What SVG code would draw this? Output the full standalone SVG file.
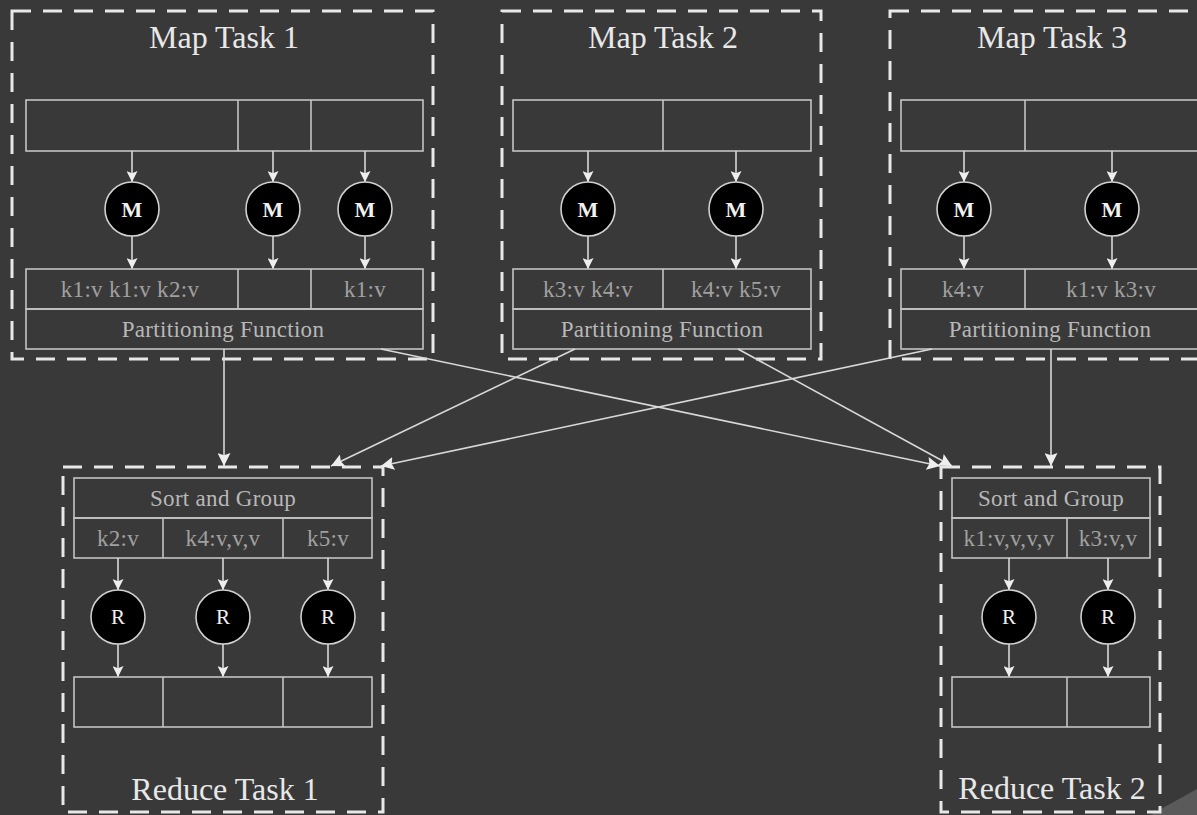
<svg xmlns="http://www.w3.org/2000/svg" width="1197" height="815" viewBox="0 0 1197 815">
<defs>
<style>
.task{fill:none;stroke:#e8e8e8;stroke-width:3;stroke-dasharray:19,12}
.cell{fill:none;stroke:#c4c4c4;stroke-width:1.6}
.ln{fill:none;stroke:#d8d8d8;stroke-width:1.6}
.circ{fill:#000;stroke:#d0d0d0;stroke-width:1.6}
.title{font-family:"Liberation Serif",serif;font-size:32px;fill:#e8e8e8;text-anchor:middle}
.lbl{font-family:"Liberation Serif",serif;font-size:23px;fill:#b8b8b8;text-anchor:middle;letter-spacing:0.3px}
.key{font-family:"Liberation Serif",serif;font-size:23px;fill:#a0a0a0;text-anchor:middle;letter-spacing:0.3px}
.m{font-family:"Liberation Serif",serif;font-size:22px;font-weight:bold;fill:#f0f0f0;text-anchor:middle}
.r{font-family:"Liberation Serif",serif;font-size:21px;fill:#f0f0f0;text-anchor:middle}
</style>
<marker id="ah" viewBox="0 0 10 10" refX="10" refY="5" markerWidth="11" markerHeight="11" markerUnits="userSpaceOnUse" orient="auto">
<path d="M0,0 L10,5 L0,10 L2,5 Z" fill="#eeeeee"/>
</marker>
<marker id="ah2" viewBox="0 0 12 12" refX="12" refY="6" markerWidth="13" markerHeight="13" markerUnits="userSpaceOnUse" orient="auto">
<path d="M0,0 L12,6 L0,12 L2,6 Z" fill="#eeeeee"/>
</marker>
</defs>
<rect x="0" y="0" width="1197" height="815" fill="#393939"/>
<polygon points="1150,815 1197,789 1197,815" fill="#5a5a5a"/>

<g id="map1">
<rect class="task" x="12" y="11" width="421" height="348"/>
<text class="title" x="224" y="48">Map Task 1</text>
<rect class="cell" x="26" y="100" width="397" height="51"/>
<line class="cell" x1="238" y1="100" x2="238" y2="151"/>
<line class="cell" x1="311" y1="100" x2="311" y2="151"/>
<line class="ln" x1="132" y1="151" x2="132" y2="182" marker-end="url(#ah)"/>
<line class="ln" x1="273" y1="151" x2="273" y2="182" marker-end="url(#ah)"/>
<line class="ln" x1="365" y1="151" x2="365" y2="182" marker-end="url(#ah)"/>
<circle class="circ" cx="132" cy="209" r="27"/>
<circle class="circ" cx="273" cy="209" r="27"/>
<circle class="circ" cx="365" cy="209" r="27"/>
<text class="m" x="132" y="217">M</text>
<text class="m" x="273" y="217">M</text>
<text class="m" x="365" y="217">M</text>
<line class="ln" x1="132" y1="236" x2="132" y2="269" marker-end="url(#ah)"/>
<line class="ln" x1="273" y1="236" x2="273" y2="269" marker-end="url(#ah)"/>
<line class="ln" x1="365" y1="236" x2="365" y2="269" marker-end="url(#ah)"/>
<rect class="cell" x="26" y="269" width="397" height="40"/>
<line class="cell" x1="238" y1="269" x2="238" y2="309"/>
<line class="cell" x1="311" y1="269" x2="311" y2="309"/>
<text class="key" x="130" y="297">k1:v k1:v k2:v</text>
<text class="key" x="365" y="297">k1:v</text>
<rect class="cell" x="26" y="309" width="397" height="40"/>
<text class="lbl" x="223" y="337">Partitioning Function</text>
</g>

<g id="map2">
<rect class="task" x="502" y="11" width="319" height="348"/>
<text class="title" x="663" y="48">Map Task 2</text>
<rect class="cell" x="513" y="100" width="298" height="51"/>
<line class="cell" x1="663" y1="100" x2="663" y2="151"/>
<line class="ln" x1="588" y1="151" x2="588" y2="182" marker-end="url(#ah)"/>
<line class="ln" x1="736" y1="151" x2="736" y2="182" marker-end="url(#ah)"/>
<circle class="circ" cx="588" cy="209" r="27"/>
<circle class="circ" cx="736" cy="209" r="27"/>
<text class="m" x="588" y="217">M</text>
<text class="m" x="736" y="217">M</text>
<line class="ln" x1="588" y1="236" x2="588" y2="269" marker-end="url(#ah)"/>
<line class="ln" x1="736" y1="236" x2="736" y2="269" marker-end="url(#ah)"/>
<rect class="cell" x="513" y="269" width="298" height="40"/>
<line class="cell" x1="663" y1="269" x2="663" y2="309"/>
<text class="key" x="588" y="297">k3:v k4:v</text>
<text class="key" x="736" y="297">k4:v k5:v</text>
<rect class="cell" x="513" y="309" width="298" height="40"/>
<text class="lbl" x="662" y="337">Partitioning Function</text>
</g>

<g id="map3">
<rect class="task" x="890" y="11" width="322" height="348"/>
<text class="title" x="1052" y="48">Map Task 3</text>
<rect class="cell" x="901" y="100" width="298" height="51"/>
<line class="cell" x1="1025" y1="100" x2="1025" y2="151"/>
<line class="ln" x1="964" y1="151" x2="964" y2="182" marker-end="url(#ah)"/>
<line class="ln" x1="1112" y1="151" x2="1112" y2="182" marker-end="url(#ah)"/>
<circle class="circ" cx="964" cy="209" r="27"/>
<circle class="circ" cx="1112" cy="209" r="27"/>
<text class="m" x="964" y="217">M</text>
<text class="m" x="1112" y="217">M</text>
<line class="ln" x1="964" y1="236" x2="964" y2="269" marker-end="url(#ah)"/>
<line class="ln" x1="1112" y1="236" x2="1112" y2="269" marker-end="url(#ah)"/>
<rect class="cell" x="901" y="269" width="298" height="40"/>
<line class="cell" x1="1025" y1="269" x2="1025" y2="309"/>
<text class="key" x="963" y="297">k4:v</text>
<text class="key" x="1111" y="297">k1:v k3:v</text>
<rect class="cell" x="901" y="309" width="298" height="40"/>
<text class="lbl" x="1050" y="337">Partitioning Function</text>
</g>

<g id="reduce1">
<rect class="task" x="63" y="467" width="320" height="345"/>
<rect class="cell" x="74" y="478" width="298" height="40"/>
<text class="lbl" x="223" y="506">Sort and Group</text>
<rect class="cell" x="74" y="518" width="298" height="40"/>
<line class="cell" x1="163" y1="518" x2="163" y2="558"/>
<line class="cell" x1="283" y1="518" x2="283" y2="558"/>
<text class="key" x="118" y="546">k2:v</text>
<text class="key" x="223" y="546">k4:v,v,v</text>
<text class="key" x="328" y="546">k5:v</text>
<line class="ln" x1="118" y1="558" x2="118" y2="590" marker-end="url(#ah)"/>
<line class="ln" x1="223" y1="558" x2="223" y2="590" marker-end="url(#ah)"/>
<line class="ln" x1="328" y1="558" x2="328" y2="590" marker-end="url(#ah)"/>
<circle class="circ" cx="118" cy="617" r="27"/>
<circle class="circ" cx="223" cy="617" r="27"/>
<circle class="circ" cx="328" cy="617" r="27"/>
<text class="r" x="118" y="624">R</text>
<text class="r" x="223" y="624">R</text>
<text class="r" x="328" y="624">R</text>
<line class="ln" x1="118" y1="644" x2="118" y2="677" marker-end="url(#ah)"/>
<line class="ln" x1="223" y1="644" x2="223" y2="677" marker-end="url(#ah)"/>
<line class="ln" x1="328" y1="644" x2="328" y2="677" marker-end="url(#ah)"/>
<rect class="cell" x="74" y="677" width="298" height="50"/>
<line class="cell" x1="163" y1="677" x2="163" y2="727"/>
<line class="cell" x1="283" y1="677" x2="283" y2="727"/>
<text class="title" x="225" y="800">Reduce Task 1</text>
</g>

<g id="reduce2">
<rect class="task" x="941" y="467" width="219" height="345"/>
<rect class="cell" x="952" y="478" width="198" height="40"/>
<text class="lbl" x="1051" y="506">Sort and Group</text>
<rect class="cell" x="952" y="518" width="198" height="40"/>
<line class="cell" x1="1067" y1="518" x2="1067" y2="558"/>
<text class="key" x="1009" y="546">k1:v,v,v,v</text>
<text class="key" x="1108" y="546">k3:v,v</text>
<line class="ln" x1="1009" y1="558" x2="1009" y2="590" marker-end="url(#ah)"/>
<line class="ln" x1="1108" y1="558" x2="1108" y2="590" marker-end="url(#ah)"/>
<circle class="circ" cx="1009" cy="617" r="27"/>
<circle class="circ" cx="1108" cy="617" r="27"/>
<text class="r" x="1009" y="624">R</text>
<text class="r" x="1108" y="624">R</text>
<line class="ln" x1="1009" y1="644" x2="1009" y2="677" marker-end="url(#ah)"/>
<line class="ln" x1="1108" y1="644" x2="1108" y2="677" marker-end="url(#ah)"/>
<rect class="cell" x="952" y="677" width="198" height="50"/>
<line class="cell" x1="1067" y1="677" x2="1067" y2="727"/>
<text class="title" x="1052" y="799">Reduce Task 2</text>
</g>

<g id="connectors">
<line class="ln" x1="224" y1="349" x2="224" y2="466" marker-end="url(#ah2)"/>
<line class="ln" x1="381" y1="349" x2="940" y2="466" marker-end="url(#ah2)"/>
<line class="ln" x1="575" y1="349" x2="331" y2="466" marker-end="url(#ah2)"/>
<line class="ln" x1="738" y1="349" x2="952" y2="466" marker-end="url(#ah2)"/>
<line class="ln" x1="932" y1="349" x2="381" y2="466" marker-end="url(#ah2)"/>
<line class="ln" x1="1051" y1="349" x2="1051" y2="466" marker-end="url(#ah2)"/>
</g>
</svg>
